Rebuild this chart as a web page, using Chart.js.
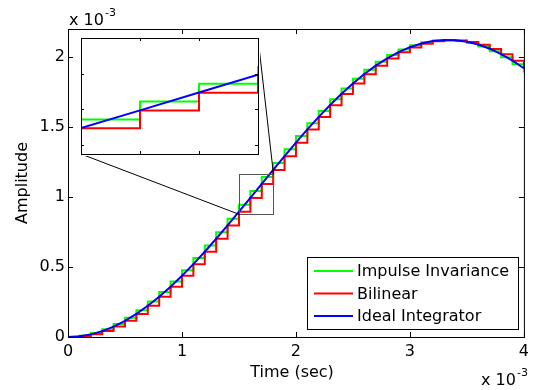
<!DOCTYPE html>
<html>
<head>
<meta charset="utf-8">
<script src="https://cdn.jsdelivr.net/npm/chart.js@4/dist/chart.umd.min.js"></script>
<style>
  html, body { margin: 0; padding: 0; background: #fff; }
  #wrap { position: relative; width: 534px; height: 390px; }
  #main { display: block; }
  #inset { position: absolute; left: 79px; top: 36px; background: #fff; }
</style>
</head>
<body>
<div id="wrap">
  <canvas id="main" width="534" height="390"></canvas>
  <canvas id="inset" width="181" height="120"></canvas>
</div>
<script>
// time axis, in units of 1e-3 s (one sample every 0.1 ms)
const timeMs = [0, 0.1, 0.2, 0.3, 0.4, 0.5, 0.6, 0.7, 0.8, 0.9,
  1.0, 1.1, 1.2, 1.3, 1.4, 1.5, 1.6, 1.7, 1.8, 1.9,
  2.0, 2.1, 2.2, 2.3, 2.4, 2.5, 2.6, 2.7, 2.8, 2.9,
  3.0, 3.1, 3.2, 3.3, 3.4, 3.5, 3.6, 3.7, 3.8, 3.9, 4.0];

// amplitudes, in units of 1e-3
const impulseInv = [0, 0.0094, 0.0282, 0.0560, 0.0929, 0.1383, 0.1918, 0.2531, 0.3216, 0.3966,
  0.4775, 0.5636, 0.6540, 0.7481, 0.8450, 0.9438, 1.0436, 1.1435, 1.2427, 1.3403,
  1.4354, 1.5272, 1.6148, 1.6975, 1.7746, 1.8453, 1.9090, 1.9652, 2.0134, 2.0531,
  2.0840, 2.1058, 2.1184, 2.1215, 2.1152, 2.0996, 2.0747, 2.0408, 1.9983, 1.9474, 1.8886];

const bilinear = [0, 0.0047, 0.0188, 0.0421, 0.0745, 0.1156, 0.1650, 0.2225, 0.2874, 0.3591,
  0.4370, 0.5205, 0.6088, 0.7011, 0.7965, 0.8943, 0.9936, 1.0935, 1.1931, 1.2915,
  1.3878, 1.4813, 1.5709, 1.6561, 1.7360, 1.8099, 1.8771, 1.9371, 1.9893, 2.0332,
  2.0685, 2.0949, 2.1120, 2.1199, 2.1183, 2.1073, 2.0871, 2.0578, 2.0195, 1.9728, 1.9179];

const ideal = [0, 0.0047, 0.0188, 0.0421, 0.0745, 0.1156, 0.1652, 0.2227, 0.2876, 0.3594,
  0.4374, 0.5209, 0.6093, 0.7016, 0.7971, 0.8950, 0.9944, 1.0943, 1.1940, 1.2925,
  1.3889, 1.4824, 1.5721, 1.6574, 1.7373, 1.8112, 1.8785, 1.9385, 1.9908, 2.0347,
  2.0701, 2.0965, 2.1136, 2.1215, 2.1199, 2.1089, 2.0887, 2.0593, 2.0210, 1.9743, 1.9194];

const seriesNames = ["Impulse Invariance", "Bilinear", "Ideal Integrator"];
const seriesColors = ["#00ff00", "#ff0000", "#0000ff"];

const xTicks = [0, 1, 2, 3, 4];
const yTicks = [0, 0.5, 1, 1.5, 2];

// zoomed region
const zoomX = [1.5, 1.8];
const zoomYBox = [0.88, 1.165];
const zoomYInset = [0.75, 1.4];
const insetXTicks = [1.6, 1.7];
const insetYTicks = [0.8, 1.0, 1.2];

// inset position on the page (chart area of the inset canvas)
const INSET = { left: 81, top: 38, right: 258, bottom: 154 };

Chart.defaults.font.family = "'DejaVu Sans', sans-serif";
Chart.defaults.font.size = 16;
Chart.defaults.color = "#000";

function pts(arr) {
  return timeMs.map((t, i) => ({ x: t, y: arr[i] }));
}

function makeDatasets() {
  return [
    { label: seriesNames[0], data: pts(impulseInv), borderColor: seriesColors[0], stepped: true, order: 3 },
    { label: seriesNames[1], data: pts(bilinear), borderColor: seriesColors[1], stepped: true, order: 2 },
    { label: seriesNames[2], data: pts(ideal), borderColor: seriesColors[2], order: 1 },
  ];
}

function line(ctx, x1, y1, x2, y2) {
  ctx.beginPath();
  ctx.moveTo(x1, y1);
  ctx.lineTo(x2, y2);
  ctx.stroke();
}

function drawExponent(ctx, x, y) {
  ctx.font = "16px 'DejaVu Sans'";
  ctx.textAlign = "left";
  ctx.textBaseline = "alphabetic";
  ctx.fillText("x 10", x, y);
  const w = ctx.measureText("x 10").width;
  ctx.font = "11px 'DejaVu Sans'";
  ctx.fillText("-3", x + w + 1, y - 9);
}

const mainDecor = {
  id: "mainDecor",
  afterDatasetsDraw(chart) {
    const ctx = chart.ctx;
    const a = chart.chartArea;
    const xs = chart.scales.x, ys = chart.scales.y;
    ctx.save();
    ctx.strokeStyle = "#000";
    ctx.lineWidth = 1;
    ctx.strokeRect(a.left + 0.5, a.top + 0.5, a.right - a.left, a.bottom - a.top);

    // inward ticks on all four sides
    xTicks.forEach((v) => {
      const px = Math.round(xs.getPixelForValue(v)) + 0.5;
      line(ctx, px, a.bottom, px, a.bottom - 5);
      line(ctx, px, a.top, px, a.top + 5);
    });
    yTicks.forEach((v) => {
      const py = Math.round(ys.getPixelForValue(v)) + 0.5;
      line(ctx, a.left, py, a.left + 5, py);
      line(ctx, a.right, py, a.right - 5, py);
    });

    // zoom box and the lines to the inset
    const bx1 = Math.round(xs.getPixelForValue(zoomX[0])) + 0.5;
    const bx2 = Math.round(xs.getPixelForValue(zoomX[1])) + 0.5;
    const by1 = Math.round(ys.getPixelForValue(zoomYBox[1])) + 0.5;
    const by2 = Math.round(ys.getPixelForValue(zoomYBox[0])) + 0.5;
    ctx.strokeStyle = "#555";
    ctx.strokeRect(bx1, by1, bx2 - bx1, by2 - by1);
    ctx.strokeStyle = "#000";
    line(ctx, INSET.left, INSET.bottom, bx1, by2);
    line(ctx, INSET.right, INSET.top, bx2, by1);

    // legend
    const lg = { left: 307, top: 257, right: 518, bottom: 329 };
    ctx.fillStyle = "#fff";
    ctx.fillRect(lg.left, lg.top, lg.right - lg.left, lg.bottom - lg.top);
    ctx.strokeStyle = "#000";
    ctx.strokeRect(lg.left + 0.5, lg.top + 0.5, lg.right - lg.left, lg.bottom - lg.top);
    ctx.font = "16px 'DejaVu Sans'";
    ctx.textAlign = "left";
    ctx.textBaseline = "middle";
    chart.data.datasets.forEach((ds, i) => {
      const y = 271 + i * 22.5;
      ctx.strokeStyle = ds.borderColor;
      ctx.lineWidth = 2;
      line(ctx, 314, y, 353, y);
      ctx.fillStyle = "#000";
      ctx.fillText(ds.label, 357, y + 1);
    });

    // axis titles and exponents
    ctx.fillStyle = "#000";
    ctx.textAlign = "center";
    ctx.textBaseline = "alphabetic";
    ctx.font = "16px 'DejaVu Sans'";
    ctx.fillText("Time (sec)", 292, 377);
    ctx.save();
    ctx.translate(27, (a.top + a.bottom) / 2);
    ctx.rotate(-Math.PI / 2);
    ctx.fillText("Amplitude", 0, 0);
    ctx.restore();
    drawExponent(ctx, 69, 25);
    drawExponent(ctx, 481, 385);
    ctx.restore();
  },
};

const insetDecor = {
  id: "insetDecor",
  afterDatasetsDraw(chart) {
    const ctx = chart.ctx;
    const a = chart.chartArea;
    const xs = chart.scales.x, ys = chart.scales.y;
    ctx.save();
    ctx.strokeStyle = "#000";
    ctx.lineWidth = 1;
    ctx.strokeRect(a.left + 0.5, a.top + 0.5, a.right - a.left, a.bottom - a.top);
    insetXTicks.forEach((v) => {
      const px = Math.round(xs.getPixelForValue(v)) + 0.5;
      line(ctx, px, a.bottom, px, a.bottom - 3);
      line(ctx, px, a.top, px, a.top + 3);
    });
    insetYTicks.forEach((v) => {
      const py = Math.round(ys.getPixelForValue(v)) + 0.5;
      line(ctx, a.left, py, a.left + 3, py);
      line(ctx, a.right, py, a.right - 3, py);
    });
    ctx.restore();
  },
};

// matlab style labels: 0, 0.5, 1, 1.5, 2
const plainLabel = (v) => String(Math.round(v * 10) / 10);

new Chart(document.getElementById("main"), {
  type: "line",
  data: { datasets: makeDatasets() },
  options: {
    responsive: false,
    animation: false,
    devicePixelRatio: 1,
    layout: { padding: { left: 0, top: 29, right: 10, bottom: 0 } },
    elements: { point: { radius: 0 }, line: { borderWidth: 2, tension: 0 } },
    plugins: { legend: { display: false }, tooltip: { enabled: false } },
    scales: {
      x: {
        type: "linear",
        min: 0,
        max: 4,
        ticks: { stepSize: 1, padding: 5, maxRotation: 0, color: "#000", callback: plainLabel },
        grid: { display: false, drawTicks: false },
        border: { display: false },
        afterFit: (s) => { s.height = 53; },
      },
      y: {
        type: "linear",
        min: 0,
        max: 2.2,
        ticks: { stepSize: 0.5, padding: 3, color: "#000", callback: plainLabel },
        grid: { display: false, drawTicks: false },
        border: { display: false },
        afterBuildTicks: (s) => { s.ticks = s.ticks.filter((t) => t.value <= 2.0001); },
        afterFit: (s) => { s.width = 68; },
      },
    },
  },
  plugins: [mainDecor],
});

new Chart(document.getElementById("inset"), {
  type: "line",
  data: { datasets: makeDatasets() },
  options: {
    responsive: false,
    animation: false,
    devicePixelRatio: 1,
    layout: { padding: 2 },
    elements: { point: { radius: 0 }, line: { borderWidth: 2, tension: 0 } },
    plugins: { legend: { display: false }, tooltip: { enabled: false } },
    scales: {
      x: { type: "linear", display: false, min: zoomX[0], max: zoomX[1] },
      y: { type: "linear", display: false, min: zoomYInset[0], max: zoomYInset[1] },
    },
  },
  plugins: [insetDecor],
});
</script>
</body>
</html>
